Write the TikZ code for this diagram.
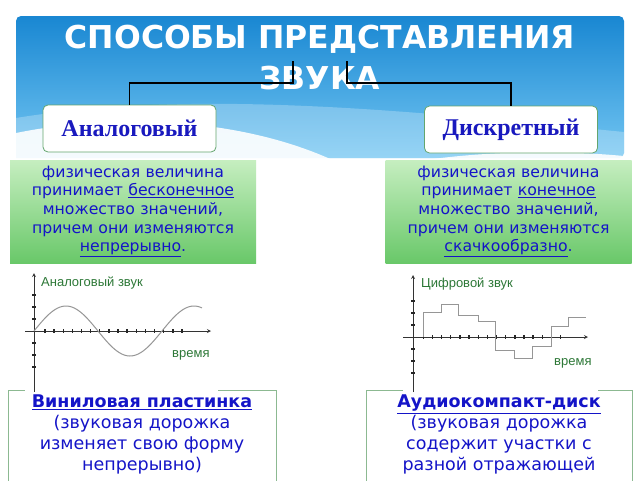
\documentclass[tikz,border=0pt]{standalone}
\usepackage{fontspec}
\setmainfont{DejaVu Sans}
\newfontfamily\timesfont{Liberation Serif}
\newfontfamily\arialfont{Liberation Sans}
\usetikzlibrary{positioning}

\definecolor{bannertop}{RGB}{25,135,210}
\definecolor{bannerbottom}{RGB}{115,198,242}
\definecolor{kindblue}{RGB}{25,25,190}
\definecolor{textblue}{RGB}{20,20,200}
\definecolor{kindedge}{RGB}{100,165,110}
\definecolor{greentop}{RGB}{198,238,192}
\definecolor{greenbottom}{RGB}{105,200,105}
\definecolor{mediaedge}{RGB}{140,185,145}
\definecolor{capgreen}{RGB}{45,120,55}
\definecolor{curvegray}{RGB}{150,150,150}

\tikzset{
  headline/.style={text=white, align=center, font=\bfseries\fontsize{31.5}{41}\selectfont},
  kind/.style={draw=kindedge, fill=white, rounded corners=5pt, line width=0.8pt,
    minimum width=173pt, minimum height=47pt, text=kindblue,
    font=\timesfont\bfseries\fontsize{24}{28}\selectfont},
  defbox/.style={top color=greentop, bottom color=greenbottom, minimum width=246pt,
    minimum height=103pt, text width=244pt, align=center, inner sep=0pt, text=textblue,
    font=\fontsize{15.7}{18.7}\selectfont},
  mediaframe/.style={draw=mediaedge, fill=white, line width=0.8pt, anchor=north,
    minimum height=120pt},
  mediatext/.style={align=center, text=textblue, inner sep=0pt,
    font=\fontsize{17.5}{21}\selectfont},
  axis/.style={->, >=stealth, line width=0.8pt, black!80},
  tick/.style={line width=1.4pt, black!85},
  wave/.style={line width=1pt, curvegray},
  graphlabel/.style={anchor=west, inner sep=0pt, text=capgreen,
    font=\arialfont\fontsize{13}{15}\selectfont}
}

\begin{document}
\begin{tikzpicture}[x=1pt,y=-1pt]
  \useasboundingbox (0,0) rectangle (640,480);
  \clip (0,0) rectangle (640,480);
  \fill[white] (0,0) rectangle (640,480);

  % banner
  \shade[top color=bannertop, bottom color=bannerbottom, rounded corners=5pt]
    (16,158) -- (16,16) -- (624,16) -- (624,158) [sharp corners] -- cycle;
  \fill[white, opacity=0.25] (16,118) .. controls (200,88) and (420,112) .. (624,132)
    -- (624,158) -- (16,158) -- cycle;
  \fill[white, opacity=0.9] (16,133) .. controls (120,112) and (250,118) .. (345,166)
    -- (16,166) -- cycle;
  \fill[white, opacity=0.9] (390,166) .. controls (470,150) and (560,150) .. (624,156)
    -- (624,166) -- cycle;

  \node[headline] (title) at (320,58) {СПОСОБЫ ПРЕДСТАВЛЕНИЯ\\ЗВУКА};
  \coordinate (tleft) at (293,61);
  \coordinate (tright) at (347,61);

  \node[kind] (analog) at (129.5,128.5) {Аналоговый};
  \node[kind] (discrete) at (511,129.5) {Дискретный};

  \draw[line width=1.5pt] (tleft) -- ++(0,22) -| (analog.north);
  \draw[line width=1.5pt] (tright) -- ++(0,22) -| (discrete.north);

  \node[defbox] (analogdef) at (133,211.5) {физическая величина\\принимает \underline{бесконечное}\\множество значений,\\причем они изменяются\\\underline{непрерывно}.};
  \node[defbox] (discretedef) at (508.5,211.5) {физическая величина\\принимает \underline{конечное}\\множество значений,\\причем они изменяются\\\underline{скачкообразно}.};

  % media boxes
  \node[mediaframe, minimum width=268pt] (vinylframe) at (142,390) {};
  \node[mediaframe, minimum width=266pt] (cdframe) at (499,390) {};

  % graphs
  \fill[white] (25,265) rectangle (218,392);
  \fill[white] (403,265) rectangle (598,392);

  \draw[axis] (34,392) -- (34,273);
  \draw[axis] (25,331) -- (211,331);
  \foreach \i in {0,...,15}
    \draw[tick] ({45+9.13*\i},329) -- ++(0,4);
  \foreach \y in {295,307,319,343,355,367}
    \draw[tick] (32,\y) -- ++(4,0);
  \draw[wave] plot[domain=34:202, samples=80, smooth] (\x,{331-25*sin(2.8125*(\x-34))});
  \node[graphlabel] (analogcap) at (41,283) {Аналоговый звук};
  \node[graphlabel] (analogtime) at (172,355) {время};

  \draw[axis] (413,392) -- (413,275);
  \draw[axis] (403,337) -- (588,337);
  \foreach \i in {0,...,15}
    \draw[tick] ({423.3+9.15*\i},335) -- ++(0,4);
  \foreach \y in {301,313,325,349,361,373}
    \draw[tick] (411,\y) -- ++(4,0);
  \draw[wave] (423,337) -- (423,312) -- (441,312) -- (441,304) -- (458,304) -- (458,315)
    -- (478,315) -- (478,321) -- (495,321) -- (495,350) -- (514,350) -- (514,358)
    -- (532,358) -- (532,346) -- (551,346) -- (551,326) -- (568,326) -- (568,317) -- (586,317);
  \node[graphlabel] (digitalcap) at (421,284) {Цифровой звук};
  \node[graphlabel] (digitaltime) at (554,363) {время};

  \node[mediatext, below=5pt of vinylframe.north] (vinyl) {\textbf{\underline{Виниловая пластинка}}\\(звуковая дорожка\\изменяет свою форму\\непрерывно)};
  \node[mediatext, below=5pt of cdframe.north] (cd) {\textbf{\underline{Аудиокомпакт-диск}}\\(звуковая дорожка\\содержит участки с\\разной отражающей};
\end{tikzpicture}
\end{document}
